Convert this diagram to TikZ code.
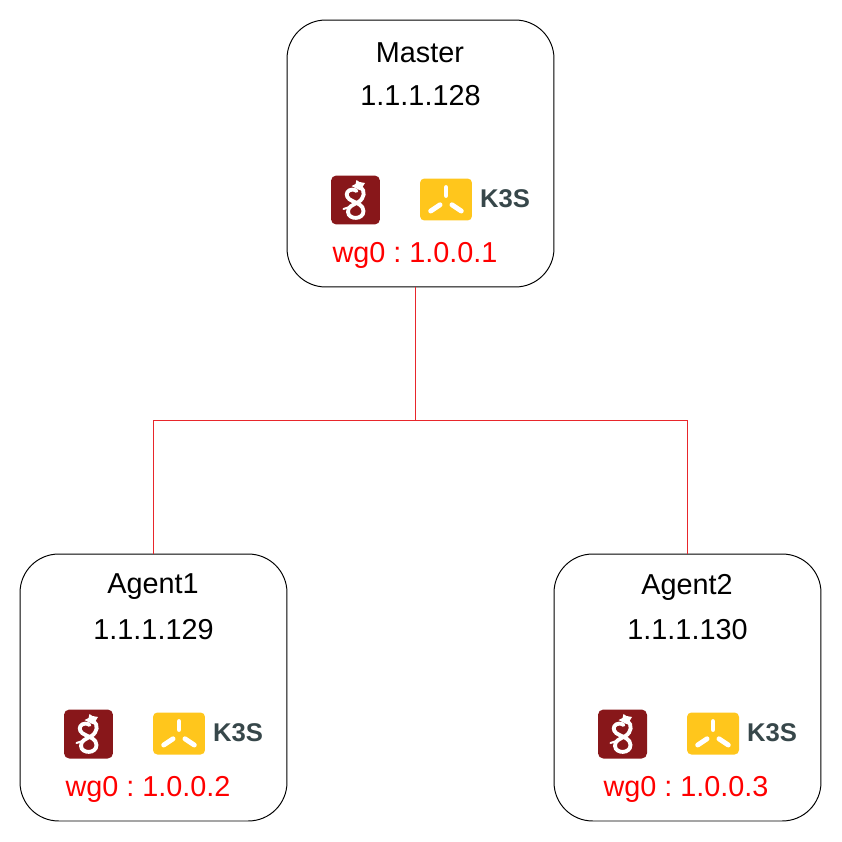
\documentclass[tikz,border=0pt]{standalone}
\usepackage{fontspec}
\setmainfont{Liberation Sans}
\usetikzlibrary{positioning}

\definecolor{wgred}{HTML}{88171A}
\definecolor{ksyellow}{HTML}{FFC61C}
\definecolor{ksgrey}{HTML}{37474A}
\definecolor{linkred}{HTML}{E8262B}

\tikzset{
  hostbox/.style={draw=black,line width=0.55pt,rounded corners=22pt,minimum size=5.34cm,inner sep=0pt,outer sep=0pt},
  hosttext/.style={font=\fontsize{16.4}{18}\selectfont,inner sep=0pt},
  wgtext/.style={hosttext,text=red},
  kstext/.style={font=\fontsize{14.6}{16}\bfseries\selectfont,text=ksgrey,inner sep=0pt},
  link/.style={draw=linkred,line width=0.8pt},
  wgicon/.style={fill=wgred,rounded corners=3pt,minimum size=0.98cm,inner sep=0pt},
  ksicon/.style={fill=ksyellow,rounded corners=2.5pt,minimum width=1.04cm,minimum height=0.84cm,inner sep=0pt},
  pics/wgdragon/.style={code={
    \draw [white,line width=2.2pt,line cap=round] (5,13) .. controls (10,9) and (9,2) .. (3,-2) .. controls (-3,-5) and (-8,-7) .. (-7.5,-12) .. controls (-7,-20) and (8,-20) .. (8,-11) .. controls (8,-5) and (1,-3) .. (-3,-1) .. controls (-8,1) and (-10,5) .. (-8,8) .. controls (-6,11) and (-1,11) .. (1,9);
    \fill [white] (-4,14) -- (0,16) -- (1,20) -- (4,18) -- (9.5,17) -- (7,13) -- (4,10) -- cycle;
    \draw [white,line width=1.1pt,line cap=round] (-12,-9) -- (-6,-7);
  }},
  pics/ksarms/.style={code={
    \draw [white,line width=2.8pt,line cap=round] (0,4) -- (0,12);
    \draw [white,line width=2.8pt,line cap=round] (-6,-5.3) -- (-15.3,-11.5);
    \draw [white,line width=2.8pt,line cap=round] (6,-5.3) -- (15.3,-11.5);
  }}
}

% one host: name, x, y, title, address, wg text, wg shift
\newcommand{\hostnode}[7]{
\node [hostbox] (#1) at (#2,#3) {};
\path (#1.center) ++(-0.5,100.5) node [hosttext] (#1title) {#4};
\path (#1.center) ++(0,58) node [hosttext] (#1addr) {#5};
\path (#1.center) ++(-65,-46.5) node [wgicon] (#1wg) {};
\pic at (#1wg) {wgdragon};
\path (#1.center) ++(25.5,-46) node [ksicon] (#1ks) {};
\pic at (#1ks) {ksarms};
\path (#1.center) ++(84.5,-45.5) node [kstext] (#1kslabel) {K3S};
\path (#1.center) ++(#7,-101.5) node [wgtext] (#1wgaddr) {#6};
}

\begin{document}
\frenchspacing
\begin{tikzpicture}[x=0.02cm,y=0.02cm]
\useasboundingbox (0,0) rectangle (842,-842);
\hostnode{master}{420.5}{-153.5}{Master}{1.1.1.128}{wg0 : 1.0.0.1}{-5.5}
\hostnode{agentone}{153.5}{-687.5}{Agent1}{1.1.1.129}{wg0 : 1.0.0.2}{-5.5}
\hostnode{agenttwo}{687.5}{-687.5}{Agent2}{1.1.1.130}{wg0 : 1.0.0.3}{-1.5}
\coordinate (bus) at (415.5,-420.5);
\coordinate (mastertap) at (415.5,-287);
\draw [link] (mastertap) -- (bus);
\draw [link] (bus) -| (agentone);
\draw [link] (bus) -| (agenttwo);
\end{tikzpicture}
\end{document}
